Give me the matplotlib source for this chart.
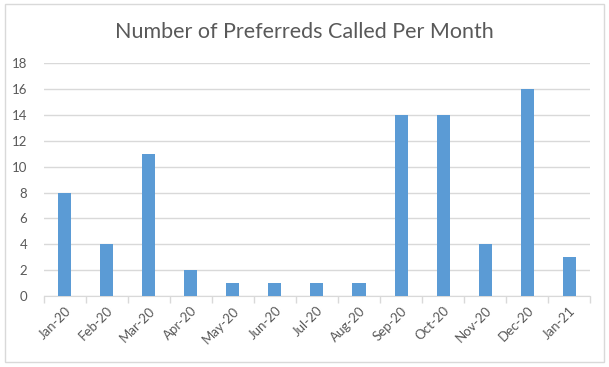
import matplotlib.pyplot as plt
from matplotlib.patches import Rectangle
import numpy as np

# Data
months = ['Jan-20', 'Feb-20', 'Mar-20', 'Apr-20', 'May-20', 'Jun-20', 'Jul-20',
          'Aug-20', 'Sep-20', 'Oct-20', 'Nov-20', 'Dec-20', 'Jan-21']
called = [8, 4, 11, 2, 1, 1, 1, 1, 14, 14, 4, 16, 3]

plt.rcParams['font.family'] = ['Lato', 'DejaVu Sans']

fig = plt.figure(figsize=(6.09, 3.67), dpi=100)
fig.patch.set_facecolor('white')
# outer chart border
fig.patches.append(Rectangle((0.008, 0.013), 0.984, 0.975, transform=fig.transFigure,
                             fill=False, edgecolor='#d9d9d9', linewidth=1.0))

ax = fig.add_axes([0.072, 0.193, 0.897, 0.635])
x = np.arange(len(months))
ax.bar(x, called, width=0.31, color='#5b9bd5', zorder=3)

ax.set_xlim(-0.5, len(months) - 0.5)
ax.set_ylim(0, 18)
ax.set_yticks(range(0, 19, 2))
ax.yaxis.grid(True, color='#d9d9d9', linewidth=1.0, zorder=0)
ax.tick_params(axis='y', length=0, labelsize=9.5, labelcolor='#595959', pad=12)

ax.set_xticks(x)
ax.set_xticklabels(months, rotation=45, ha='right', rotation_mode='anchor',
                   fontsize=9.5, color='#595959')
ax.set_xticks(np.arange(-0.5, len(months)), minor=True)
ax.tick_params(axis='x', which='major', length=0, pad=6)
ax.tick_params(axis='x', which='minor', length=5, color='#d9d9d9', width=1.0)

for side in ['top', 'right', 'left']:
    ax.spines[side].set_visible(False)
ax.spines['bottom'].set_color('#d9d9d9')

fig.text(0.5, 0.912, 'Number of Preferreds Called Per Month', ha='center', va='center',
         fontsize=15.5, color='#595959')

fig.savefig('out.png', dpi=100)
